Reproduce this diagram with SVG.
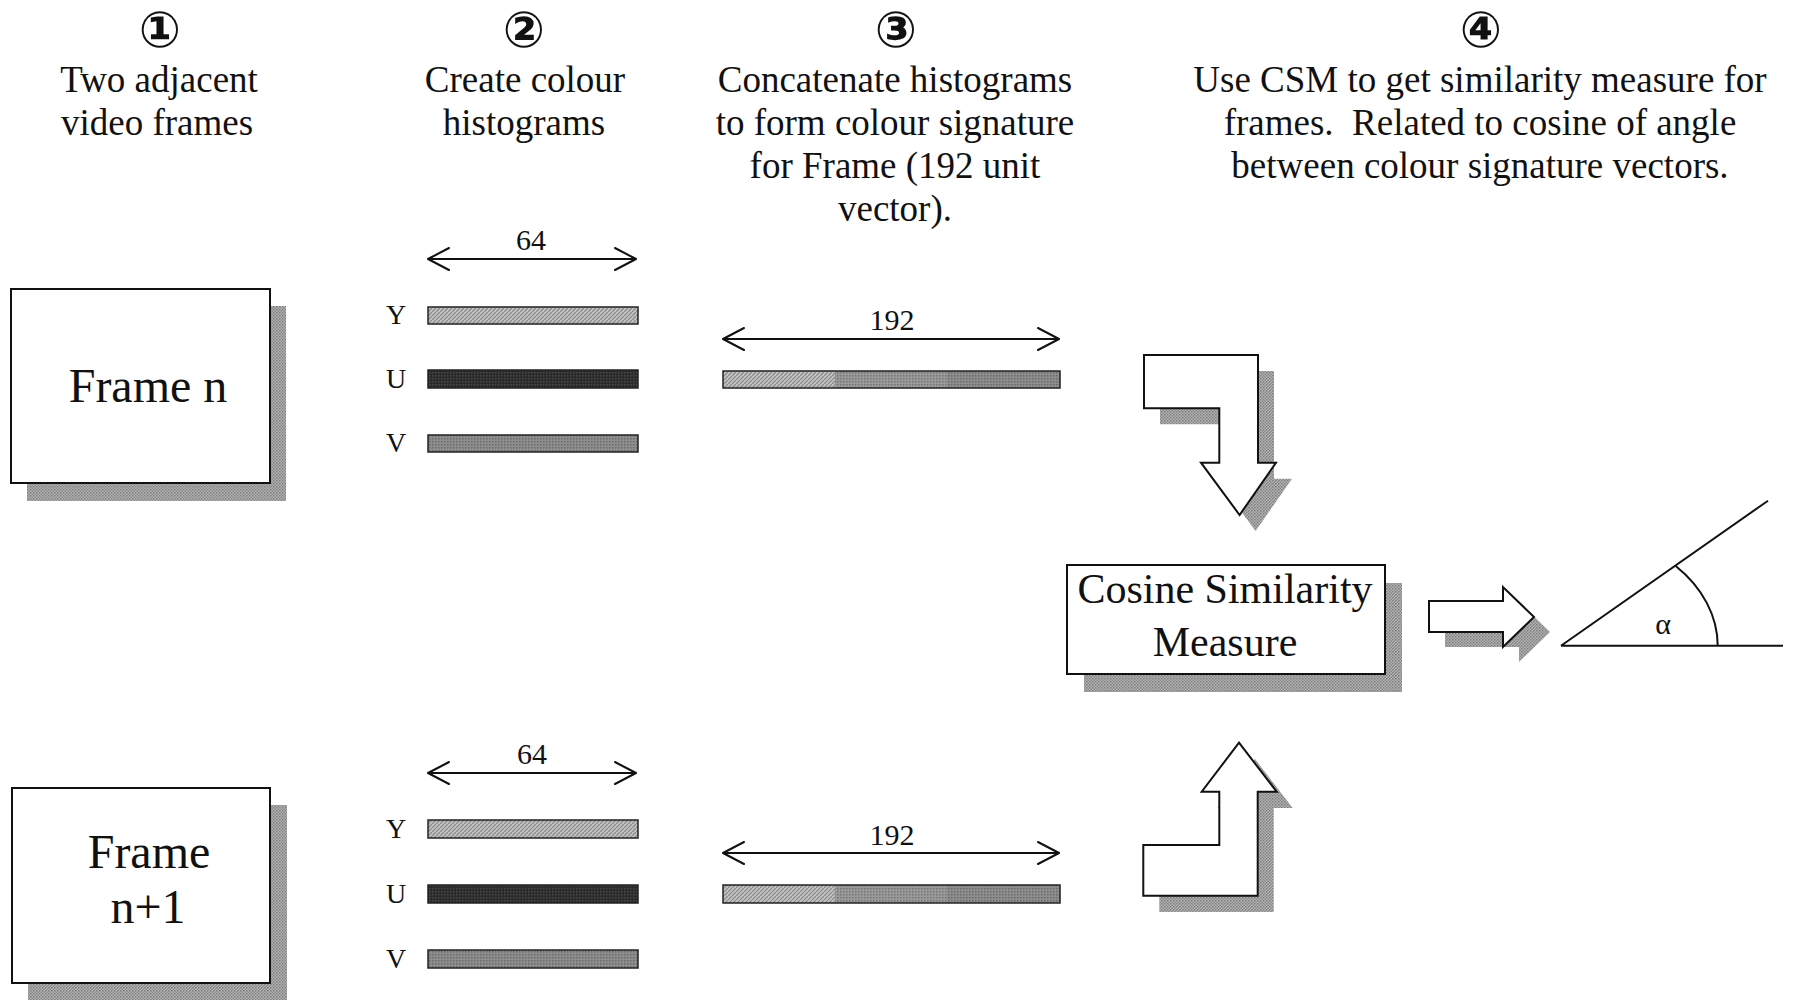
<svg xmlns="http://www.w3.org/2000/svg" width="1794" height="1000" viewBox="0 0 1794 1000">
  <style>
    .t { font-family: 'Liberation Serif', 'Times New Roman', serif; fill: #111; }
    .hd { font-size: 37px; text-anchor: middle; }
    .num { font-family: 'DejaVu Serif', 'DejaVu Sans', 'Noto Sans CJK JP', sans-serif; font-size: 50px; font-weight: bold; text-anchor: middle; fill: #111; }
    .big { font-size: 48px; text-anchor: middle; }
    .csm { font-size: 42px; text-anchor: middle; }
    .lbl { font-size: 28px; text-anchor: middle; }
    .dim { font-size: 30px; text-anchor: middle; }
    .box { fill: #fff; stroke: #111; stroke-width: 2; }
    .shadow { fill: url(#dither); }
    .line { fill: none; stroke: #111; stroke-width: 2; }
    .head { fill: none; stroke: #111; stroke-width: 2; stroke-linecap: round; stroke-linejoin: round; }
    .bar { stroke: #222; stroke-width: 1.5; }
  </style>
  <defs>
    <!-- halftone grey used for drop shadows -->
    <pattern id="dither" width="3" height="3" patternUnits="userSpaceOnUse">
      <rect width="3" height="3" fill="#b4b4b4"/>
      <rect width="1.5" height="1.5" fill="#7c7c7c"/>
      <rect x="1.5" y="1.5" width="1.5" height="1.5" fill="#8a8a8a"/>
    </pattern>
    <!-- Y channel: light hatched grey -->
    <pattern id="hatchY" width="4" height="4" patternUnits="userSpaceOnUse">
      <rect width="4" height="4" fill="#c0c0c0"/>
      <path d="M0,4 L4,0" stroke="#888" stroke-width="1.2"/>
    </pattern>
    <!-- U channel: near-black -->
    <pattern id="fillU" width="3" height="3" patternUnits="userSpaceOnUse">
      <rect width="3" height="3" fill="#2a2a2a"/>
      <rect width="1.5" height="1.5" fill="#4a4a4a"/>
    </pattern>
    <!-- V channel: mid grey dotted -->
    <pattern id="fillV" width="3" height="3" patternUnits="userSpaceOnUse">
      <rect width="3" height="3" fill="#8e8e8e"/>
      <rect width="1.5" height="1.5" fill="#6a6a6a"/>
    </pattern>
    <pattern id="fillM" width="3" height="3" patternUnits="userSpaceOnUse">
      <rect width="3" height="3" fill="#9a9a9a"/>
      <rect width="1.5" height="1.5" fill="#747474"/>
    </pattern>
  </defs>

  <!-- step headings -->
  <g id="step1">
    <text class="num" x="160" y="47">①</text>
    <text class="t hd" x="159" y="92">Two adjacent</text>
    <text class="t hd" x="157" y="135">video frames</text>
  </g>
  <g id="step2">
    <text class="num" x="524" y="47">②</text>
    <text class="t hd" x="525" y="92">Create colour</text>
    <text class="t hd" x="524" y="135">histograms</text>
  </g>
  <g id="step3">
    <text class="num" x="896" y="47">③</text>
    <text class="t hd" x="895" y="92">Concatenate histograms</text>
    <text class="t hd" x="895" y="135">to form colour signature</text>
    <text class="t hd" x="895" y="178">for Frame (192 unit</text>
    <text class="t hd" x="895" y="221">vector).</text>
  </g>
  <g id="step4">
    <text class="num" x="1481" y="47">④</text>
    <text class="t hd" x="1480" y="92">Use CSM to get similarity measure for</text>
    <text class="t hd" x="1480" y="135">frames.&#160; Related to cosine of angle</text>
    <text class="t hd" x="1480" y="178">between colour signature vectors.</text>
  </g>

  <!-- video frames -->
  <g id="frame-n">
    <rect class="shadow" x="27" y="306" width="259" height="195"/>
    <rect class="box" x="11" y="289" width="259" height="194"/>
    <text class="t big" x="148" y="402">Frame n</text>
  </g>
  <g id="frame-n1">
    <rect class="shadow" x="28" y="805" width="259" height="200"/>
    <rect class="box" x="12" y="788" width="258" height="195"/>
    <text class="t big" x="149" y="868">Frame</text>
    <text class="t big" x="148" y="923">n+1</text>
  </g>

  <!-- colour histograms, frame n -->
  <g id="hist-n">
    <path class="line" d="M428,259 H636"/>
    <path class="head" d="M449,248 L428,259 L449,270 M615,248 L636,259 L615,270"/>
    <text class="t dim" x="531" y="250">64</text>
    <text class="t lbl" x="396" y="324">Y</text>
    <rect class="bar" x="428" y="307" width="210" height="17" fill="url(#hatchY)"/>
    <text class="t lbl" x="396" y="388">U</text>
    <rect class="bar" x="428" y="370" width="210" height="18" fill="url(#fillU)"/>
    <text class="t lbl" x="396" y="452">V</text>
    <rect class="bar" x="428" y="435" width="210" height="17" fill="url(#fillV)"/>
  </g>

  <!-- colour histograms, frame n+1 -->
  <g id="hist-n1">
    <path class="line" d="M428,773 H636"/>
    <path class="head" d="M449,762 L428,773 L449,784 M615,762 L636,773 L615,784"/>
    <text class="t dim" x="532" y="764">64</text>
    <text class="t lbl" x="396" y="838">Y</text>
    <rect class="bar" x="428" y="820" width="210" height="18" fill="url(#hatchY)"/>
    <text class="t lbl" x="396" y="903">U</text>
    <rect class="bar" x="428" y="885" width="210" height="18" fill="url(#fillU)"/>
    <text class="t lbl" x="396" y="968">V</text>
    <rect class="bar" x="428" y="950" width="210" height="18" fill="url(#fillV)"/>
  </g>

  <!-- colour signatures (192 units) -->
  <g id="sig-n">
    <path class="line" d="M723,339 H1059"/>
    <path class="head" d="M744,328 L723,339 L744,350 M1038,328 L1059,339 L1038,350"/>
    <text class="t dim" x="892" y="330">192</text>
    <rect x="723" y="371" width="112" height="17" fill="url(#hatchY)"/>
    <rect x="835" y="371" width="112" height="17" fill="url(#fillM)"/>
    <rect x="947" y="371" width="113" height="17" fill="url(#fillV)"/>
    <rect x="723" y="371" width="337" height="17" fill="none" stroke="#222" stroke-width="1.5"/>
  </g>
  <g id="sig-n1">
    <path class="line" d="M723,853 H1059"/>
    <path class="head" d="M744,842 L723,853 L744,864 M1038,842 L1059,853 L1038,864"/>
    <text class="t dim" x="892" y="845">192</text>
    <rect x="723" y="885" width="112" height="18" fill="url(#hatchY)"/>
    <rect x="835" y="885" width="112" height="18" fill="url(#fillM)"/>
    <rect x="947" y="885" width="113" height="18" fill="url(#fillV)"/>
    <rect x="723" y="885" width="337" height="18" fill="none" stroke="#222" stroke-width="1.5"/>
  </g>

  <!-- cosine similarity measure -->
  <g id="csm">
    <rect class="shadow" x="1084" y="583" width="318" height="109"/>
    <rect class="box" x="1067" y="565" width="318" height="109" stroke-width="1.5"/>
    <text class="t csm" x="1225" y="603">Cosine Similarity</text>
    <text class="t csm" x="1225" y="656">Measure</text>
  </g>

  <!-- angle between signature vectors -->
  <g id="angle">
    <path class="line" d="M1561,645.7 H1783 M1561,645.7 L1768,500.7"/>
    <path class="line" d="M1675.7,566 A156,117 0 0 1 1717.7,645.7"/>
    <text class="t" x="1663" y="634" font-size="30" text-anchor="middle">α</text>
  </g>

  <!-- block arrows -->
  <g id="connectors">
    <g id="arrow-down">
      <polygon class="shadow" points="1160,371 1274,371 1274,478.7 1292,478.7 1255.6,531 1217,478.7 1235.3,478.7 1235.3,424.3 1160,424.3"/>
      <polygon class="box" points="1144,355 1258,355 1258,462.7 1276,462.7 1239.6,515 1201,462.7 1219.3,462.7 1219.3,408.3 1144,408.3"/>
    </g>
    <g id="arrow-up">
      <polygon class="shadow" points="1255,759 1292.7,808 1273.7,808 1273.7,912 1159.3,912 1159.3,861 1235.3,861 1235.3,808 1217.7,808"/>
      <polygon class="box" points="1239,742.7 1276.7,791.7 1257.7,791.7 1257.7,895.7 1143.3,895.7 1143.3,845 1219.3,845 1219.3,791.7 1201.7,791.7"/>
    </g>
    <g id="arrow-right">
      <polygon class="shadow" points="1445,616 1519,616 1519,602 1550,632 1519,662 1519,647 1445,647"/>
      <polygon class="box" points="1429,601 1503,601 1503,587 1534,617 1503,647 1503,632 1429,632"/>
    </g>
  </g>
</svg>
